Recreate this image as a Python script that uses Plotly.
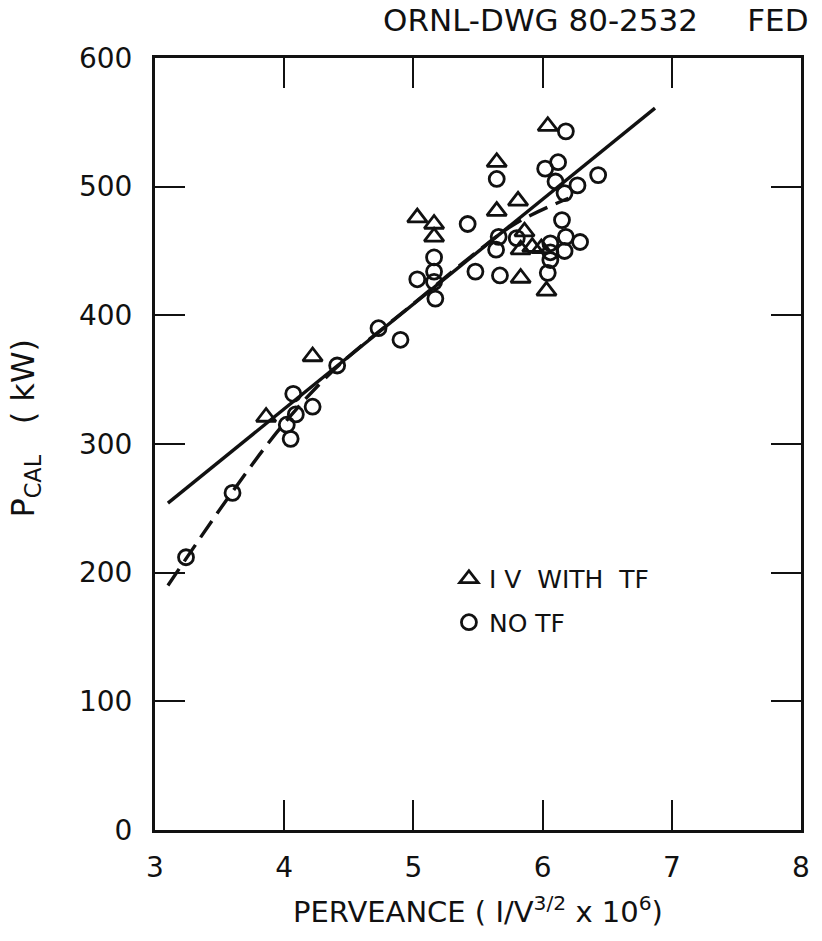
import plotly.graph_objects as go

# Data
tf_x = [3.86, 4.22, 5.03, 5.16, 5.16, 5.645, 5.645, 5.81, 5.86, 5.83, 5.92, 5.99, 5.83, 6.03, 6.04]
tf_y = [321, 368, 476, 471, 461, 519, 481, 489, 465, 451, 453, 452, 429, 419, 547]

notf_x = [3.24, 3.60, 4.02, 4.05, 4.07, 4.09, 4.22, 4.41, 4.73, 4.90, 5.03, 5.16, 5.16, 5.16, 5.17,
          5.42, 5.48, 5.645, 5.66, 5.64, 5.67, 5.80, 6.02, 6.10, 6.12, 6.18, 6.17, 6.27, 6.43,
          6.15, 6.18, 6.29, 6.17, 6.06, 6.06, 6.06, 6.04]
notf_y = [212, 262, 315, 304, 339, 323, 329, 361, 390, 381, 428, 445, 434, 426, 413,
          471, 434, 506, 461, 451, 431, 460, 514, 504, 519, 543, 495, 501, 509,
          474, 461, 457, 450, 456, 449, 443, 433]

fit_x = [3.1, 6.87]
fit_y = [254, 561]

curve_x = [3.1, 3.6, 4.0, 4.4, 5.0, 5.5, 5.8, 6.2]
curve_y = [190, 263, 316, 359, 409, 450, 472, 491]

x_ticks = [3, 4, 5, 6, 7, 8]
y_ticks = [0, 100, 200, 300, 400, 500, 600]

FONT = "DejaVu Sans"
BLACK = "#111111"

fig = go.Figure()
fig.add_trace(go.Scatter(x=fit_x, y=fit_y, mode="lines",
                         line=dict(color=BLACK, width=3.4), showlegend=False, hoverinfo="skip"))
fig.add_trace(go.Scatter(x=curve_x, y=curve_y, mode="lines", line_shape="spline",
                         line=dict(color=BLACK, width=3.4, dash="20px,9px"),
                         showlegend=False, hoverinfo="skip"))
fig.add_trace(go.Scatter(x=tf_x, y=tf_y, mode="markers", name="I V  WITH  TF",
                         legendgroup="a",
                         marker=dict(symbol="triangle-up-open", size=17, color=BLACK,
                                     line=dict(width=2.8, color=BLACK))))
fig.add_trace(go.Scatter(x=notf_x, y=notf_y, mode="markers", name="NO TF",
                         legendgroup="b",
                         marker=dict(symbol="circle-open", size=15, color=BLACK,
                                     line=dict(width=2.8, color=BLACK))))

axis_common = dict(showgrid=False, zeroline=False, showline=True, linewidth=3,
                   linecolor=BLACK, mirror="ticks", ticks="inside", ticklen=30,
                   tickwidth=2, tickcolor=BLACK,
                   tickfont=dict(family=FONT, size=28, color=BLACK))

fig.update_layout(
    width=822, height=941,
    margin=dict(l=155, r=16, t=58, b=111),
    paper_bgcolor="white", plot_bgcolor="white",
    xaxis=dict(range=[3, 8], tickvals=x_ticks, ticklabelstandoff=10, **axis_common),
    yaxis=dict(range=[0, 600], tickvals=y_ticks, ticklabelstandoff=14, **axis_common),
    legend=dict(x=0.455, y=0.355, xanchor="left", yanchor="top",
                bgcolor="rgba(0,0,0,0)", tracegroupgap=8,
                font=dict(family=FONT, size=25, color=BLACK)),
    font=dict(family=FONT, color=BLACK),
    annotations=[
        dict(text="ORNL-DWG 80-2532&nbsp;&nbsp;&nbsp;&nbsp;&nbsp;FED", xref="paper", yref="paper",
             x=1.015, y=1.0, yshift=38, xanchor="right", yanchor="middle",
             showarrow=False, font=dict(family=FONT, size=31, color=BLACK)),
        dict(text="PERVEANCE ( I/V<sup>3/2</sup> x 10<sup>6</sup>)", xref="paper", yref="paper",
             x=0.5, y=0, yshift=-80, xanchor="center", yanchor="middle",
             showarrow=False, font=dict(family=FONT, size=29, color=BLACK)),
        dict(text="P<sub>CAL</sub>&nbsp;&nbsp;&nbsp;( kW)", xref="paper", yref="paper",
             x=0, xshift=-130, y=0.52, xanchor="center", yanchor="middle", textangle=-90,
             showarrow=False, font=dict(family=FONT, size=32, color=BLACK)),
    ],
)

fig.write_html("out.html")
